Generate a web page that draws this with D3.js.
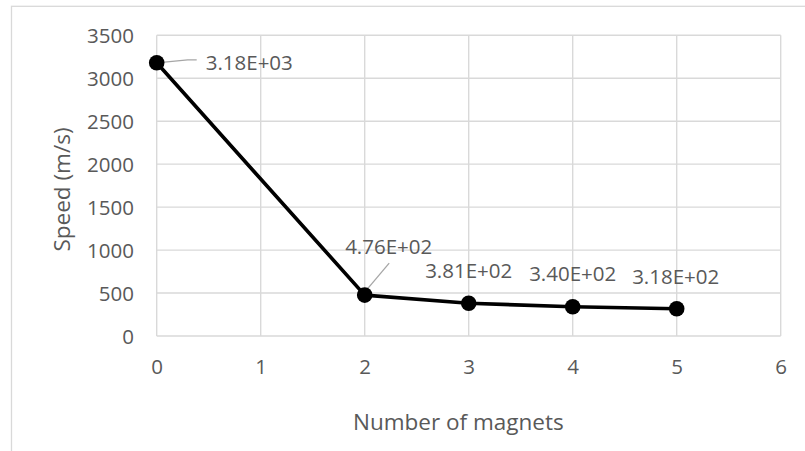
<!DOCTYPE html>
<html>
<head>
<meta charset="utf-8">
<script src="https://cdn.jsdelivr.net/npm/d3@7"></script>
<style>
  html, body { margin: 0; padding: 0; background: #ffffff; }
  svg { display: block; }
  text { font-family: "Open Sans", "DejaVu Sans", sans-serif; fill: #595959; }
</style>
</head>
<body>
<script>
// Measured speed versus the number of magnets
const magnets = [0, 2, 3, 4, 5];
const speeds = [3180, 476, 381, 340, 318];
const xTicks = [0, 1, 2, 3, 4, 5, 6];
const yTicks = [0, 500, 1000, 1500, 2000, 2500, 3000, 3500];
const xTitle = "Number of magnets";
const yTitle = "Speed (m/s)";

// Excel-style scientific notation, e.g. 3.18E+03
function sci(v) {
  const e = Math.floor(Math.log10(v));
  const m = v / Math.pow(10, e);
  return m.toFixed(2) + "E" + (e < 0 ? "-" : "+") + String(Math.abs(e)).padStart(2, "0");
}

const W = 805, H = 451;
const plot = { left: 156.7, right: 780.7, top: 35.3, bottom: 336 };

const svg = d3.select("body").append("svg")
  .attr("width", W).attr("height", H);

// chart frame (continues past the right and bottom edges)
svg.append("rect")
  .attr("x", 11.5).attr("y", 6.3)
  .attr("width", 820).attr("height", 470)
  .attr("fill", "none").attr("stroke", "#d9d9d9").attr("stroke-width", 1.3);

const x = d3.scaleLinear().domain([0, 6]).range([plot.left, plot.right]);
const y = d3.scaleLinear().domain([0, 3500]).range([plot.bottom, plot.top]);

// gridlines
const grid = svg.append("g").attr("stroke", "#d9d9d9").attr("stroke-width", 1.4);
grid.selectAll("line.v").data(xTicks).join("line")
  .attr("x1", d => x(d)).attr("x2", d => x(d))
  .attr("y1", plot.top).attr("y2", plot.bottom);
grid.selectAll("line.h").data(yTicks).join("line")
  .attr("x1", plot.left).attr("x2", plot.right)
  .attr("y1", d => y(d)).attr("y2", d => y(d));

// axes (labels only; the lines come from the grid)
const xAxis = svg.append("g")
  .attr("transform", `translate(0,${plot.bottom})`)
  .call(d3.axisBottom(x).tickValues(xTicks).tickSize(0).tickPadding(0).tickFormat(d3.format("d")));
xAxis.select(".domain").remove();
xAxis.selectAll("text")
  .attr("y", 38.3).attr("dy", null)
  .attr("fill", "#595959").style("font-size", "20.5px")
  .style("font-family", '"Open Sans", "DejaVu Sans", sans-serif');

const yAxis = svg.append("g")
  .attr("transform", `translate(134,0)`)
  .call(d3.axisLeft(y).tickValues(yTicks).tickSize(0).tickPadding(0).tickFormat(d3.format("d")));
yAxis.select(".domain").remove();
yAxis.selectAll("text")
  .attr("x", 0).attr("dy", "0.36em")
  .attr("fill", "#595959").style("font-size", "20.5px")
  .style("font-family", '"Open Sans", "DejaVu Sans", sans-serif');

// axis titles
svg.append("text")
  .attr("x", 458.3).attr("y", 429.5)
  .attr("text-anchor", "middle")
  .style("font-size", "22.5px")
  .text(xTitle);

svg.append("text")
  .attr("transform", "translate(70,189.5) rotate(-90)")
  .attr("text-anchor", "middle")
  .style("font-size", "22.5px")
  .text(yTitle);

const pts = magnets.map((m, i) => ({ m, v: speeds[i] }));

// series line
svg.append("path")
  .datum(pts)
  .attr("fill", "none")
  .attr("stroke", "#000000")
  .attr("stroke-width", 3.6)
  .attr("stroke-linejoin", "round")
  .attr("d", d3.line().x(d => x(d.m)).y(d => y(d.v)));

// data label placement: offset of the label from its point, anchor and optional leader
const labelPlace = [
  { dx: 49, dy: 0, anchor: "start", leader: [[0, 0], [31, -3], [40, -3]] },
  { dx: 24, dy: -48, anchor: "middle", leader: [[0, -3], [24.5, -32]] },
  { dx: 0, dy: -33, anchor: "middle" },
  { dx: 0, dy: -33.5, anchor: "middle" },
  { dx: -1, dy: -32, anchor: "middle" }
];

// leader lines
pts.forEach((p, i) => {
  const lp = labelPlace[i];
  if (!lp.leader) return;
  svg.append("path")
    .attr("fill", "none")
    .attr("stroke", "#a6a6a6")
    .attr("stroke-width", 1.3)
    .attr("d", d3.line()(lp.leader.map(([a, b]) => [x(p.m) + a, y(p.v) + b])));
});

// markers
svg.append("g").selectAll("circle").data(pts).join("circle")
  .attr("cx", d => x(d.m)).attr("cy", d => y(d.v))
  .attr("r", 7.8).attr("fill", "#000000");

// data labels
svg.append("g").selectAll("text").data(pts).join("text")
  .attr("x", (d, i) => x(d.m) + labelPlace[i].dx)
  .attr("y", (d, i) => y(d.v) + labelPlace[i].dy)
  .attr("dy", "0.36em")
  .attr("text-anchor", (d, i) => labelPlace[i].anchor)
  .style("font-size", "20.5px")
  .text(d => sci(d.v));
</script>
</body>
</html>
